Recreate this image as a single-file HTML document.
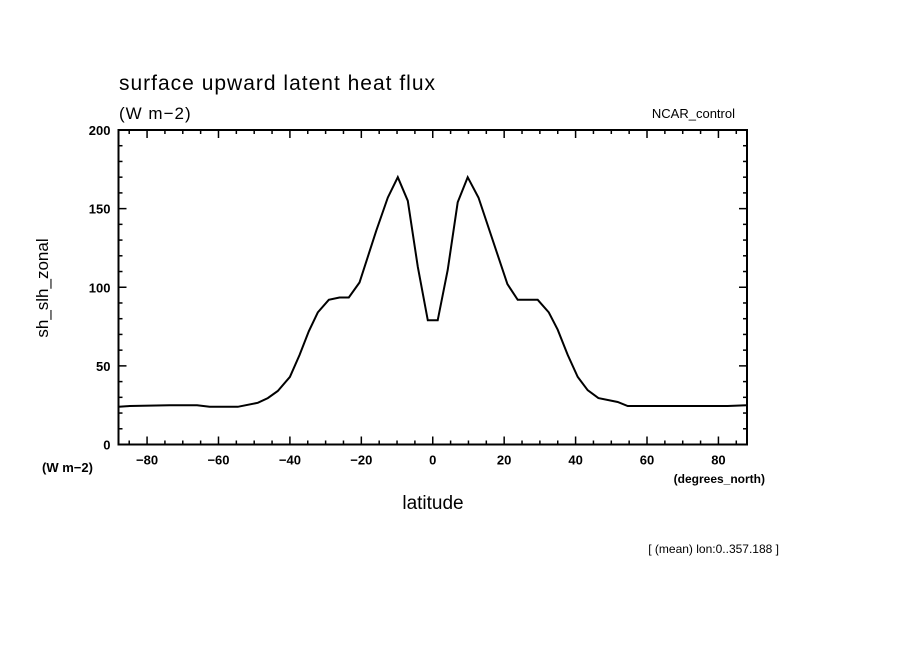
<!DOCTYPE html>
<html><head><meta charset="utf-8"><style>
body{margin:0;background:#fff;}
svg text{font-family:"Liberation Sans",sans-serif;fill:#000;}
</style></head><body>
<svg id="chart" width="904" height="654" xmlns="http://www.w3.org/2000/svg">
<rect width="904" height="654" fill="#fff"/>
<text x="119" y="90" font-size="21" letter-spacing="1">surface upward latent heat flux</text>
<text x="119" y="119" font-size="17" letter-spacing="1">(W m−2)</text>
<text x="735" y="118" font-size="13" text-anchor="end">NCAR_control</text>
<text transform="translate(48,288) rotate(-90)" font-size="17" text-anchor="middle">sh_slh_zonal</text>
<text x="42" y="472" font-size="13" font-weight="bold">(W m−2)</text>
<text x="765" y="483" font-size="12" font-weight="bold" text-anchor="end">(degrees_north)</text>
<text x="433" y="509" font-size="19" text-anchor="middle">latitude</text>
<text x="779" y="553" font-size="12" text-anchor="end">[ (mean) lon:0..357.188 ]</text>
<g id="axes"></g>
<g id="series"></g>
</svg>
<script>
const lats = [-87.9,-84.9,-73.7,-66,-62.5,-54.6,-49,-46.2,-43.4,-40,-37.3,-34.7,-32.2,-29.1,-26.1,-23.5,-20.5,-15.8,-12.6,-9.8,-7,-4.2,-1.4,1.4,4.2,7,9.8,12.8,20.9,23.8,29.4,32.5,35,37.8,40.6,43.4,46.4,51.8,54.6,63,82.6,87.9];
const values = [24,24.5,25,25,24,24,26.5,29.5,34,43,57,72,84,92,93.5,93.5,103,136,157,170,155,113,79,79,111,154,170,157,102,92,92,84,73,57,43,34.5,29.5,27,24.5,24.5,24.5,25];
const xTicks = [-80,-60,-40,-20,0,20,40,60,80];
const yTicks = [0,50,100,150,200];
const NS="http://www.w3.org/2000/svg";
const L=118.5,R=747,T=130,B=444.5,xmin=-88,xmax=88,ymin=0,ymax=200;
const X=v=>L+(v-xmin)/(xmax-xmin)*(R-L);
const Y=v=>B-(v-ymin)/(ymax-ymin)*(B-T);
const ax=document.getElementById('axes');
function mk(tag,attrs,parent){const e=document.createElementNS(NS,tag);for(const k in attrs)e.setAttribute(k,attrs[k]);parent.appendChild(e);return e;}
const frame=mk('rect',{x:L,y:T,width:R-L,height:B-T,fill:'none',stroke:'#000','stroke-width':2},ax);


for(let v=-85;v<=85;v+=5){const maj=v%20===0;const len=maj?8:4;
 const t1=mk('line',{x1:X(v),x2:X(v),y1:B,y2:B-len,stroke:'#000','stroke-width':1.5},ax);
 
 
 const t2=mk('line',{x1:X(v),x2:X(v),y1:T,y2:T+len,stroke:'#000','stroke-width':1.5},ax);
 
 }
for(let v=0;v<=200;v+=10){const maj=v%50===0;const len=maj?8:4;
 const t1=mk('line',{x1:L,x2:L+len,y1:Y(v),y2:Y(v),stroke:'#000','stroke-width':1.5},ax);
 
 
 const t2=mk('line',{x1:R,x2:R-len,y1:Y(v),y2:Y(v),stroke:'#000','stroke-width':1.5},ax);
 
 }
xTicks.forEach(v=>{const t=mk('text',{x:X(v),y:B+20,'font-size':13,'font-weight':'bold','text-anchor':'middle'},ax);t.textContent=(v<0?'−':'')+Math.abs(v);
 
 });
yTicks.forEach(v=>{const t=mk('text',{x:L-8,y:Y(v)+5,'font-size':13,'font-weight':'bold','text-anchor':'end'},ax);t.textContent=v;
 
 });
const pts=lats.map((la,i)=>X(la).toFixed(1)+','+Y(values[i]).toFixed(1)).join(' ');
const line=mk('polyline',{points:pts,fill:'none',stroke:'#000','stroke-width':2,'stroke-linejoin':'miter'},document.getElementById('series'));


</script>
</body></html>
